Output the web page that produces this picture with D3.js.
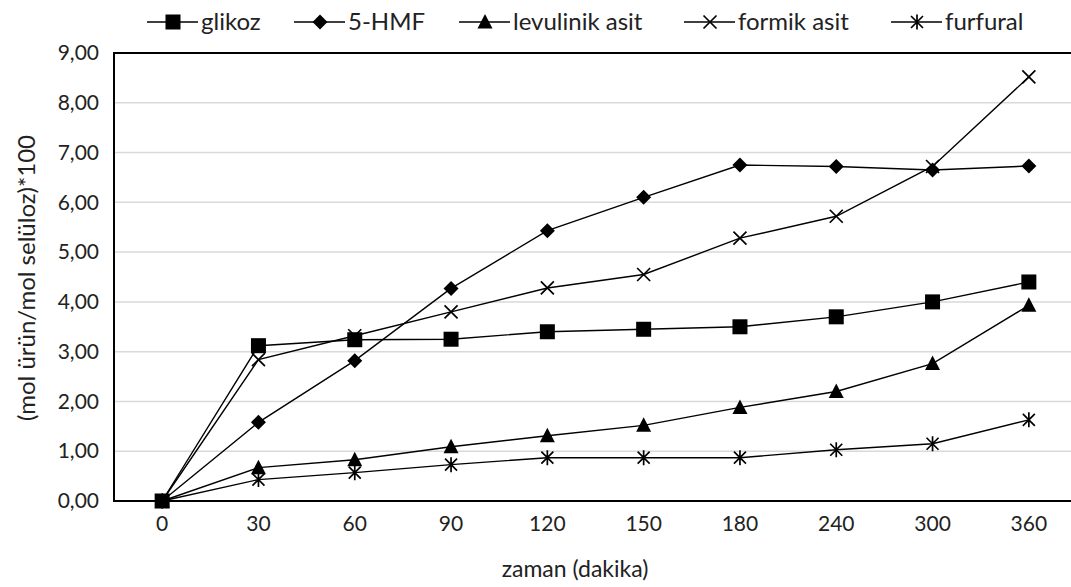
<!DOCTYPE html>
<html>
<head>
<meta charset="utf-8">
<script src="https://cdn.jsdelivr.net/npm/d3@7"></script>
<style>
  html, body { margin: 0; padding: 0; background: #fff; overflow: hidden; }
  svg { display: block; }
  text { font-family: Lato, "Open Sans", sans-serif; fill: #222; }
</style>
</head>
<body>
<div id="chart"></div>
<script>
// Data
const times = ['0', '30', '60', '90', '120', '150', '180', '240', '300', '360'];
const glikoz = [0, 3.12, 3.24, 3.25, 3.40, 3.45, 3.50, 3.70, 4.00, 4.40];
const hmf = [0, 1.58, 2.82, 4.27, 5.43, 6.10, 6.75, 6.72, 6.65, 6.73];
const levulinik = [0, 0.67, 0.83, 1.09, 1.31, 1.52, 1.88, 2.20, 2.76, 3.93];
const formik = [0, 2.84, 3.32, 3.80, 4.28, 4.55, 5.28, 5.72, 6.72, 8.52];
const furfural = [0, 0.43, 0.57, 0.73, 0.87, 0.87, 0.87, 1.03, 1.15, 1.63];
const yTicks = [0, 1, 2, 3, 4, 5, 6, 7, 8, 9];

const seriesList = [
  { name: 'glikoz', values: glikoz, marker: 'square' },
  { name: '5-HMF', values: hmf, marker: 'diamond' },
  { name: 'levulinik asit', values: levulinik, marker: 'triangle' },
  { name: 'formik asit', values: formik, marker: 'cross' },
  { name: 'furfural', values: furfural, marker: 'star' }
];

const width = 1071, height = 587;
const margin = { top: 53, right: -6, bottom: 86, left: 114 };
const innerWidth = width - margin.left - margin.right;
const innerHeight = height - margin.top - margin.bottom;

const svg = d3.select('#chart').append('svg')
  .attr('width', width)
  .attr('height', height);

const g = svg.append('g')
  .attr('transform', `translate(${margin.left},${margin.top})`);

const x = d3.scaleBand().domain(times).range([0, innerWidth]);
const y = d3.scaleLinear().domain([0, 9]).range([innerHeight, 0]);
const fmt = d => d.toFixed(2).replace('.', ',');

// Gridlines
g.append('g')
  .selectAll('line')
  .data(yTicks.filter(d => d > 0 && d < 9))
  .enter().append('line')
  .attr('x1', 0).attr('x2', innerWidth)
  .attr('y1', d => y(d)).attr('y2', d => y(d))
  .attr('stroke', '#d9d9d9')
  .attr('stroke-width', 1.5);

// Plot border (top, left, bottom)
g.append('path')
  .attr('d', `M${innerWidth},0H0V${innerHeight}H${innerWidth}`)
  .attr('fill', 'none')
  .attr('stroke', '#000')
  .attr('stroke-width', 2);

// Y axis labels
const yAxis = g.append('g')
  .attr('font-size', 21)
  .attr('font-family', 'Lato, sans-serif')
  .call(d3.axisLeft(y).tickValues(yTicks).tickFormat(fmt).tickSize(0).tickPadding(15));
yAxis.attr('font-size', 21).attr('font-family', 'Lato, sans-serif');
yAxis.select('.domain').remove();
yAxis.selectAll('text').attr('fill', '#222');

// X axis labels
const xAxis = g.append('g')
  .attr('transform', `translate(0,${innerHeight})`)
  .call(d3.axisBottom(x).tickSize(0).tickPadding(15));
xAxis.attr('font-size', 21).attr('font-family', 'Lato, sans-serif');
xAxis.select('.domain').remove();
xAxis.selectAll('text').attr('fill', '#222');

// Axis titles
svg.append('text')
  .attr('x', 575)
  .attr('y', 577)
  .attr('text-anchor', 'middle')
  .style('font-size', '23px')
  .text('zaman (dakika)');

svg.append('text')
  .attr('transform', 'translate(35,278) rotate(-90)')
  .attr('text-anchor', 'middle')
  .style('font-size', '24px')
  .text('(mol ürün/mol selüloz)*100');

function drawMarker(sel, type) {
  if (type === 'square') {
    sel.append('rect').attr('x', -7.5).attr('y', -7.5).attr('width', 15).attr('height', 15).attr('fill', '#000');
  } else if (type === 'diamond') {
    sel.append('path').attr('d', 'M0,-7.5L7.5,0L0,7.5L-7.5,0Z').attr('fill', '#000');
  } else if (type === 'triangle') {
    sel.append('path').attr('d', 'M0,-8L7.5,6.5L-7.5,6.5Z').attr('fill', '#000');
  } else if (type === 'cross') {
    sel.append('path').attr('d', 'M-6.5,-6.5L6.5,6.5M-6.5,6.5L6.5,-6.5').attr('stroke', '#000').attr('stroke-width', 1.7);
  } else if (type === 'star') {
    sel.append('path').attr('d', 'M-6,-6L6,6M-6,6L6,-6M0,-7.5V7.5').attr('stroke', '#000').attr('stroke-width', 1.7);
  }
}

const line = d3.line()
  .x((d, i) => x(times[i]) + x.bandwidth() / 2)
  .y(d => y(d));

// Series
seriesList.forEach(s => {
  g.append('path')
    .datum(s.values)
    .attr('fill', 'none')
    .attr('stroke', '#000')
    .attr('stroke-width', 1.4)
    .attr('d', line);

  g.selectAll(null)
    .data(s.values)
    .enter().append('g')
    .attr('transform', (d, i) => `translate(${x(times[i]) + x.bandwidth() / 2},${y(d)})`)
    .each(function () { drawMarker(d3.select(this), s.marker); });
});

// Legend
const legendX = [173, 320, 485, 710, 917];
const legend = svg.append('g').attr('transform', 'translate(0,22)');
seriesList.forEach((s, i) => {
  const item = legend.append('g').attr('transform', `translate(${legendX[i]},0)`);
  item.append('line')
    .attr('x1', -26).attr('x2', 25)
    .attr('stroke', '#000').attr('stroke-width', 1.4);
  drawMarker(item.append('g'), s.marker);
  item.append('text')
    .attr('x', 28)
    .attr('dy', '0.35em')
    .style('font-size', '24px')
    .text(s.name);
});
</script>
</body>
</html>
